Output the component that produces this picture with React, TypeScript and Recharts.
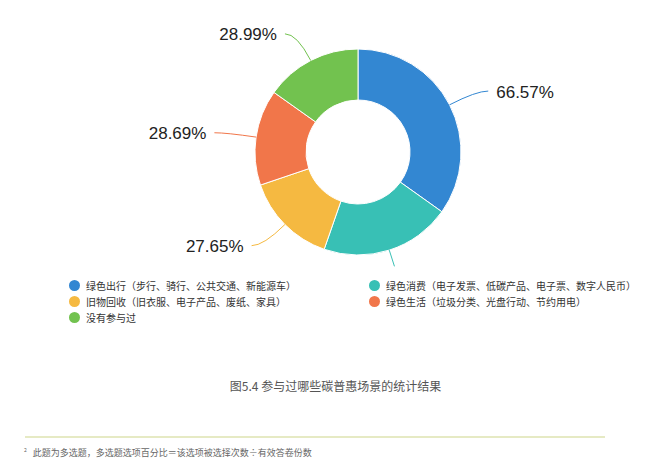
import React from 'react';
import { PieChart, Pie, Cell, Legend } from 'recharts';

const categories: string[] = [
  '绿色出行（步行、骑行、公共交通、新能源车）',
  '绿色消费（电子发票、低碳产品、电子票、数字人民币）',
  '旧物回收（旧衣服、电子产品、废纸、家具）',
  '绿色生活（垃圾分类、光盘行动、节约用电）',
  '没有参与过',
];
const values: number[] = [66.57, 39.1, 27.65, 28.69, 28.99];
const labelShown: boolean[] = [true, false, true, true, true];
const colors: string[] = ['#3387d2', '#38c0b5', '#f5b941', '#f1764a', '#72c24f'];

const titleText = '图5.4 参与过哪些碳普惠场景的统计结果';
const footnoteMark = '2';
const footnoteText = '此题为多选题，多选题选项百分比＝该选项被选择次数÷有效答卷份数';

const data = categories.map((name, i) => ({ name, value: values[i] }));

const RADIAN = Math.PI / 180;
const CJK = '"Noto Sans CJK SC", "Noto Sans", sans-serif';

const renderLabel = (props: any) => {
  const { cx, cy, midAngle, outerRadius, index, value } = props;
  const color = colors[index];
  const cos = Math.cos(-midAngle * RADIAN);
  const sin = Math.sin(-midAngle * RADIAN);
  const x0 = cx + outerRadius * cos;
  const y0 = cy + outerRadius * sin;
  if (!labelShown[index]) {
    const xe = cx + (outerRadius + 17) * cos;
    const ye = cy + (outerRadius + 17) * sin;
    return (
      <path d={`M${x0},${y0} L${xe},${ye}`} stroke={color} strokeWidth={1} fill="none" />
    );
  }
  const x1 = cx + (outerRadius + 30) * cos;
  const y1 = cy + (outerRadius + 30) * sin;
  const dir = cos >= 0 ? 1 : -1;
  const x2 = x1 + dir * 12;
  const y2 = y1;
  return (
    <g>
      <path
        d={`M${x0},${y0} Q${x1},${y1} ${x2},${y2}`}
        stroke={color}
        strokeWidth={1}
        fill="none"
      />
      <text
        x={x2 + dir * 8}
        y={y2 + 1}
        textAnchor={dir > 0 ? 'start' : 'end'}
        dominantBaseline="central"
        fill="#222"
        fontSize={17}
        fontFamily='"Liberation Sans", Arial, sans-serif'
      >
        {`${Number(value).toFixed(2)}%`}
      </text>
    </g>
  );
};

const renderLegend = (props: any) => {
  const payload = [...(props.payload || [])].sort(
    (a: any, b: any) => categories.indexOf(a.value) - categories.indexOf(b.value)
  );
  return (
    <div
      style={{
        display: 'grid',
        gridTemplateColumns: '300px 300px',
        rowGap: 0,
        fontFamily: CJK,
        fontSize: 10,
        color: '#333',
      }}
    >
      {payload.map((entry: any, i: number) => (
        <div key={i} style={{ display: 'flex', alignItems: 'center', height: 16, whiteSpace: 'nowrap' }}>
          <span
            style={{
              display: 'inline-block',
              width: 11,
              height: 11,
              borderRadius: '50%',
              background: entry.color,
              marginRight: 6,
              flex: 'none',
            }}
          />
          <span>{entry.value}</span>
        </div>
      ))}
    </div>
  );
};

export default function App() {
  return (
    <div
      style={{
        position: 'absolute',
        left: 0,
        top: 0,
        width: 661,
        height: 476,
        background: '#fff',
        overflow: 'hidden',
      }}
    >
      <PieChart width={661} height={476} margin={{ top: 0, right: 0, bottom: 0, left: 0 }}>
        <Pie
          data={data}
          dataKey="value"
          nameKey="name"
          cx={358}
          cy={152}
          innerRadius={52}
          outerRadius={103}
          startAngle={90}
          endAngle={-270}
          stroke="#fff"
          strokeWidth={1}
          label={renderLabel}
          labelLine={false}
          isAnimationActive={false}
        >
          {data.map((_, i) => (
            <Cell key={i} fill={colors[i]} />
          ))}
        </Pie>
        <Legend
          content={renderLegend}
          wrapperStyle={{ position: 'absolute', top: 277, left: 69, width: 600, bottom: 'auto' }}
        />
      </PieChart>
      <div
        style={{
          position: 'absolute',
          left: 0,
          width: 671,
          top: 377,
          textAlign: 'center',
          fontFamily: CJK,
          fontSize: 12,
          color: '#555',
          lineHeight: '18px',
        }}
      >
        {titleText}
      </div>
      <div
        style={{
          position: 'absolute',
          left: 25,
          top: 436,
          width: 580,
          height: 2,
          background: '#e6eac4',
        }}
      />
      <div
        style={{
          position: 'absolute',
          left: 24,
          top: 443,
          fontFamily: CJK,
          fontSize: 9,
          color: '#666',
          lineHeight: '14px',
          whiteSpace: 'nowrap',
        }}
      >
        <sup style={{ fontSize: 5, marginRight: 6 }}>{footnoteMark}</sup>
        {footnoteText}
      </div>
    </div>
  );
}
